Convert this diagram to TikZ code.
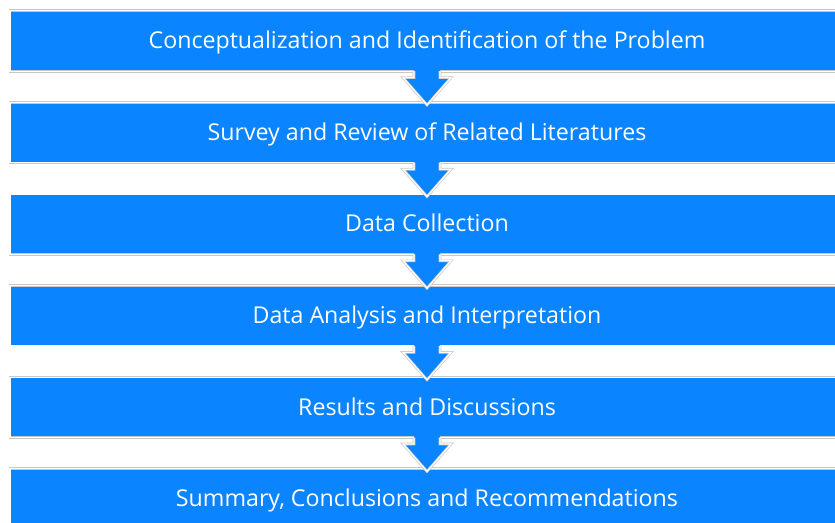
\documentclass[tikz,border=0pt]{standalone}
\usepackage{fontspec}
\setmainfont{Open Sans}
\usetikzlibrary{calc}
\definecolor{stepblue}{RGB}{10,132,255}
\definecolor{rimgray}{RGB}{200,200,200}
\tikzset{
  stepbox/.style={rectangle, fill=stepblue, draw=rimgray, double=white,
    line width=0.7pt, double distance=1.2pt,
    minimum width=834pt, minimum height=60.5pt, inner sep=0pt,
    text height=17.5pt, text depth=2pt,
    text=white, font=\fontsize{23.2}{26}\selectfont},
  arrowfill/.style={fill=stepblue},
  arrowrim/.style={draw=rimgray, double=white, line width=0.7pt,
    double distance=1.2pt, line join=miter},
}
\newcommand{\flowarrow}[2]{%
  \fill[arrowfill] ($(#1.south)+(-13,-5)$) -- ($(#1.south)+(-13,6)$)
    -- ($(#1.south)+(-24,6)$) -- ($(#2.north)+(0,3)$)
    -- ($(#1.south)+(24,6)$) -- ($(#1.south)+(13,6)$)
    -- ($(#1.south)+(13,-5)$) -- cycle;
  \draw[arrowrim] ($(#1.south)+(-13,-0.5)$) -- ($(#1.south)+(-13,6)$)
    -- ($(#1.south)+(-24,6)$) -- ($(#2.north)+(0,3)$)
    -- ($(#1.south)+(24,6)$) -- ($(#1.south)+(13,6)$)
    -- ($(#1.south)+(13,-0.5)$);
}
\begin{document}
\begin{tikzpicture}[x=1pt,y=-1pt]
  \useasboundingbox (0,0) rectangle (835,522);
  \fill[white] (0,0) rectangle (835,522);
  \node[stepbox] (s1) at (427,41)    {Conceptualization and Identification of the Problem};
  \node[stepbox] (s2) at (427,132.6) {Survey and Review of Related Literatures};
  \node[stepbox] (s3) at (427,224.2) {Data Collection};
  \node[stepbox] (s4) at (427,315.8) {Data Analysis and Interpretation};
  \node[stepbox] (s5) at (427,407.4) {Results and Discussions};
  \node[stepbox] (s6) at (427,499)   {Summary, Conclusions and Recommendations};
  \flowarrow{s1}{s2}
  \flowarrow{s2}{s3}
  \flowarrow{s3}{s4}
  \flowarrow{s4}{s5}
  \flowarrow{s5}{s6}
\end{tikzpicture}
\end{document}
